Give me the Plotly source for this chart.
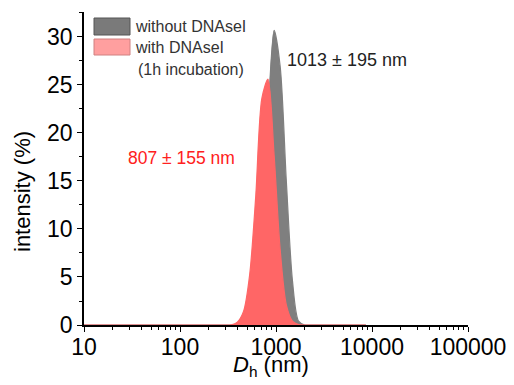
import plotly.graph_objects as go

# Hydrodynamic diameter bins (nm)
size_nm = [10, 11.7, 13.5, 15.7, 18.2, 21.0, 24.4, 28.2, 32.7, 37.8, 43.8, 50.7, 58.8, 68.1,
           78.8, 91.3, 105.7, 122.4, 141.8, 164.2, 190.1, 220.2, 255.0, 295.3, 342.0, 396.1,
           458.7, 531.2, 615.1, 712.4, 825.0, 955.4, 1106, 1281, 1484, 1718, 1990, 2305,
           2669, 3091, 3580, 4145, 4801, 5560, 6439, 7456, 8635]

# intensity (%) without DNAseI
without_dnase = [0, 0, 0, 0, 0, 0, 0, 0, 0, 0, 0, 0, 0, 0,
                 0, 0, 0, 0, 0, 0, 0, 0, 0, 0, 0, 0,
                 0.08, 0.6, 3.1, 10.2, 21.7, 30.7, 26.9, 15.0, 4.6, 0.4, 0, 0,
                 0, 0, 0, 0, 0, 0, 0, 0, 0]

# intensity (%) with DNAseI (1h incubation)
with_dnase = [0, 0, 0, 0, 0, 0, 0, 0, 0, 0, 0, 0, 0, 0,
              0, 0, 0, 0, 0, 0, 0, 0, 0, 0, 0.02, 0.3,
              1.4, 5.2, 13.4, 23.6, 25.6, 17.7, 7.8, 2.1, 0.4, 0.04, 0, 0,
              0, 0, 0, 0, 0, 0, 0, 0, 0]

x_tickvals = [10, 100, 1000, 10000, 100000]
x_ticktext = ["10", "100", "1000", "10000", "100000"]
y_tickvals = [0, 5, 10, 15, 20, 25, 30]

gray = "#7f7f7f"
red = "#ff6666"
font = "Liberation Sans, Arial, sans-serif"

L, R, T, B = 84, 46, 12, 60
PW, PH = 514 - L - R, 385 - T - B


def px(xp):
    return (xp - L) / PW


def py(yp):
    return (385 - B - yp) / PH


fig = go.Figure()
fig.add_trace(go.Scatter(x=size_nm, y=without_dnase, mode="lines",
                         line=dict(color=gray, width=1.2, shape="spline", smoothing=0.8),
                         fill="tozeroy", fillcolor=gray, name="without DNAseI", showlegend=False))
fig.add_trace(go.Scatter(x=size_nm, y=with_dnase, mode="lines",
                         line=dict(color=red, width=1.2, shape="spline", smoothing=0.8),
                         fill="tozeroy", fillcolor=red, name="with DNAseI", showlegend=False))

# manual legend
fig.add_shape(type="rect", xref="paper", yref="paper", x0=px(94), x1=px(130), y0=py(35), y1=py(18),
              fillcolor="#7a7a7a", line=dict(color="#555555", width=1))
fig.add_shape(type="rect", xref="paper", yref="paper", x0=px(94), x1=px(130), y0=py(55), y1=py(39),
              fillcolor="#ff9f9f", line=dict(color="#d08080", width=1))
fig.add_annotation(xref="paper", yref="paper", x=px(133), y=py(27), text="without DNAseI",
                   showarrow=False, xanchor="left", yanchor="middle", font=dict(family=font, size=16, color="#333333"))
fig.add_annotation(xref="paper", yref="paper", x=px(133), y=py(47), text="with DNAseI",
                   showarrow=False, xanchor="left", yanchor="middle", font=dict(family=font, size=16, color="#333333"))
fig.add_annotation(xref="paper", yref="paper", x=px(136), y=py(70), text="(1h incubation)",
                   showarrow=False, xanchor="left", yanchor="middle", font=dict(family=font, size=16, color="#333333"))

fig.add_annotation(xref="paper", yref="paper", x=px(285), y=py(60), text="1013 ± 195 nm",
                   showarrow=False, xanchor="left", yanchor="middle", font=dict(family=font, size=18, color="#222222"))
fig.add_annotation(xref="paper", yref="paper", x=px(126), y=py(158), text="807 ± 155 nm",
                   showarrow=False, xanchor="left", yanchor="middle", font=dict(family=font, size=17.5, color="#ff2020"))

# axis titles
fig.add_annotation(xref="paper", yref="paper", x=px(271), y=py(366), text="<i>D</i><sub>h</sub> (nm)",
                   showarrow=False, xanchor="center", yanchor="middle", font=dict(family=font, size=22, color="black"))
fig.add_annotation(xref="paper", yref="paper", x=px(23), y=py(192), text="intensity (%)", textangle=-90,
                   showarrow=False, xanchor="center", yanchor="middle", font=dict(family=font, size=22, color="black"))

fig.update_layout(
    width=514, height=385,
    margin=dict(l=L, r=R, t=T, b=B, autoexpand=False),
    paper_bgcolor="white", plot_bgcolor="white",
    font=dict(family=font, color="black"),
)
fig.update_xaxes(type="log", range=[1, 5], tickvals=x_tickvals, ticktext=x_ticktext, automargin=False,
                 showline=True, linecolor="black", linewidth=1.5, ticks="outside", ticklen=5, tickwidth=1.2,
                 tickcolor="black", showgrid=False, zeroline=False, layer="below traces",
                 tickfont=dict(size=23, family=font), ticklabelstandoff=-4,
                 minor=dict(ticks="outside", ticklen=3, tickwidth=1, tickcolor="black", dtick="D1", showgrid=False))
fig.update_yaxes(range=[0, 32.6], tickvals=y_tickvals, automargin=False, showline=True, linecolor="black", linewidth=1.5,
                 ticks="outside", ticklen=5, tickwidth=1.2, tickcolor="black", showgrid=False, zeroline=False,
                 layer="below traces", tickfont=dict(size=23, family=font),
                 minor=dict(ticks="outside", ticklen=3, tickwidth=1, tickcolor="black", dtick=2.5, showgrid=False))

fig.write_html("out.html", config={"displayModeBar": False},
               post_script="document.body.style.margin='0';document.body.style.overflow='hidden';")
